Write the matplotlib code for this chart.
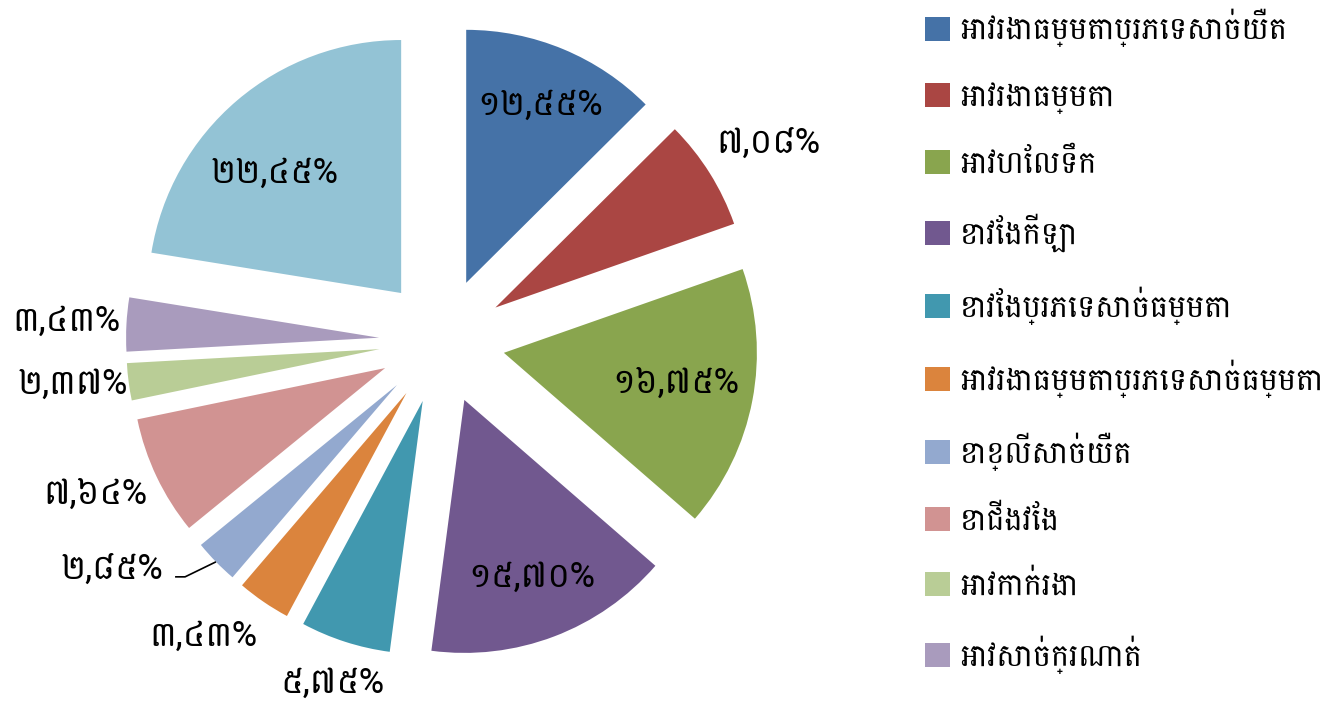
import matplotlib
matplotlib.use("Agg")
import matplotlib.pyplot as plt
import numpy as np

plt.rcParams['font.family'] = ['Battambang', 'Hanuman', 'DejaVu Sans']

categories = [
    "អាវរងាធម្មតាប្រភេទសាច់យឺត",
    "អាវរងាធម្មតា",
    "អាវហែលទឹក",
    "ខោវែងកីឡា",
    "ខោវែងប្រភេទសាច់ធម្មតា",
    "អាវរងាធម្មតាប្រភេទសាច់ធម្មតា",
    "ខោខ្លីសាច់យឺត",
    "ខោជើងវែង",
    "អាវកាក់រងា",
    "អាវសាច់ក្រណាត់",
    "",
]
values = [12.55, 7.08, 16.75, 15.70, 5.75, 3.43, 2.85, 7.64, 2.37, 3.43, 22.45]
value_labels = ["១២,៥៥%", "៧,០៨%", "១៦,៧៥%", "១៥,៧០%", "៥,៧៥%", "៣,៤៣%",
                "២,៨៥%", "៧,៦៤%", "២,៣៧%", "៣,៤៣%", "២២,៤៥%"]
colors = ["#4572A7", "#AA4643", "#89A54E", "#71588F", "#4198AF", "#DB843D",
          "#93A9CF", "#D19392", "#B9CD96", "#A99BBD", "#93C3D5"]

# label placement: distance (fraction of radius) from each exploded wedge's
# apex, and angular shift (degrees) from the wedge bisector
label_dist = [0.76, 1.26, 0.69, 0.75, 1.17, 1.25, 1.34, 1.25, 1.22, 1.24, 0.69]
label_shift = [0, -1, 1, 0, 0, -5.5, -11.5, -2, -1, 0, 6]

W, H = 1334, 704
fig = plt.figure(figsize=(W / 100, H / 100), dpi=100)
ax = fig.add_axes([0, 0, 1, 1])

R = 253
cx, cy = 442, H - 341
expl = 63

wedges, _ = ax.pie(values, colors=colors, radius=R, center=(cx, cy),
                   startangle=90, counterclock=False,
                   explode=[expl] * len(values), frame=True,
                   wedgeprops=dict(linewidth=0))
ax.set_xlim(0, W)
ax.set_ylim(0, H)
ax.set_aspect('equal')
ax.axis('off')

total = sum(values)
cum = 0
for i, v in enumerate(values):
    mid = cum + v / 2
    cum += v
    ang = np.deg2rad(90 - mid / total * 360)
    ex, ey = cx + expl * np.cos(ang), cy + expl * np.sin(ang)
    la = ang + np.deg2rad(label_shift[i])
    d = label_dist[i] * R
    lx, ly = ex + d * np.cos(la), ey + d * np.sin(la)
    ax.text(lx, ly, value_labels[i], ha='center', va='center',
            fontsize=25, color='black')
    if i == 6:
        # leader line from the arc midpoint to the label's right side
        px, py = ex + R * np.cos(ang), ey + R * np.sin(ang)
        ax.plot([px, lx + 73, lx + 63], [py, ly - 8, ly - 8],
                color='black', lw=1.2, solid_capstyle='butt')

leg = ax.legend(wedges[:10], categories[:10], loc='upper left',
                bbox_to_anchor=(925 / W, 1 - 9 / H), frameon=False,
                fontsize=22, handlelength=0.82, handleheight=0.82,
                handletextpad=0.33, labelspacing=1.13, borderaxespad=0,
                borderpad=0)

fig.savefig("out.png", dpi=100)
